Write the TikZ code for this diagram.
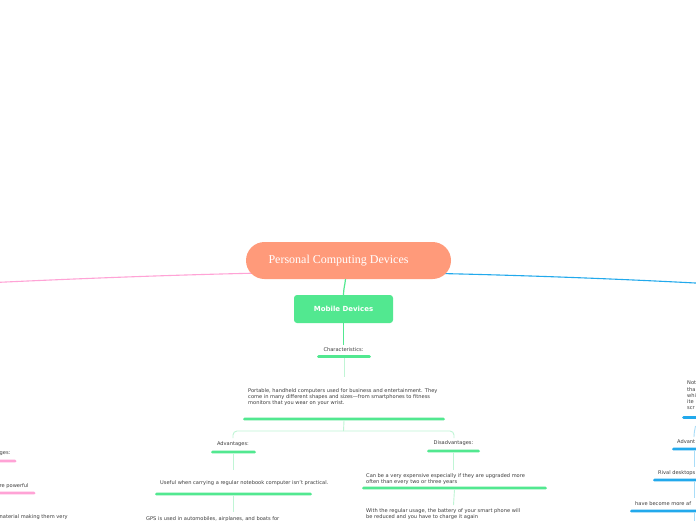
\documentclass[tikz,border=0pt]{standalone}
\usepackage{fontspec}
\setmainfont{DejaVu Sans}
\newfontfamily\titlefont{Liberation Serif}
\definecolor{salmon}{HTML}{FF9A7A}
\definecolor{mgreen}{HTML}{52E890}
\definecolor{lgreen}{HTML}{C0F5D5}
\definecolor{mpink}{HTML}{FFA3D6}
\definecolor{mblue}{HTML}{22A9EC}
\definecolor{lblue}{HTML}{A9DDF8}
\definecolor{txt}{HTML}{3C3C3C}
\tikzset{
  lbl/.style={font=\fontsize{5.1}{6.3}\selectfont, text=txt, inner sep=0pt, align=left},
  barnode/.style={fill=#1, draw=none, minimum height=2.6pt, inner sep=0pt, rounded corners=1.3pt},
  gconn/.style={draw=lgreen, line width=0.9pt},
  bconn/.style={draw=lblue, line width=0.9pt},
  topnode/.style={fill=salmon, draw=none, minimum width=205pt, minimum height=37pt, rounded corners=18.5pt, inner sep=0pt},
  titletext/.style={font=\titlefont\fontsize{12}{14}\selectfont, text=white, inner sep=0pt},
  mobnode/.style={fill=mgreen, draw=none, minimum width=99pt, minimum height=28pt, rounded corners=3pt, inner sep=0pt, text=white, font=\bfseries\fontsize{7}{8}\selectfont},
}
\begin{document}
\begin{tikzpicture}[x=1pt,y=-1pt]
\useasboundingbox (0,0) rectangle (696,520);
\clip (0,0) rectangle (696,520);
\fill[white] (0,0) rectangle (696,520);

% main branch lines
\coordinate (pinkstart) at (262,273);
\coordinate (pinkend) at (-5,282.5);
\coordinate (bluestart) at (440,273.5);
\coordinate (blueend) at (701,283.3);
\draw[mpink, line width=1.1pt] (pinkstart) .. controls (170,275) and (80,278.5) .. (pinkend);
\draw[mblue, line width=1.1pt] (bluestart) .. controls (530,275.5) and (620,279) .. (blueend);

% central topic
\node[topnode] (center) at (348.5,260.5) {};
\node[titletext] (titlelbl) at (338.5,261) {Personal Computing Devices};

% mobile devices
\node[mobnode] (mobile) at (343.5,309) {Mobile Devices};
\coordinate (c1) at (345.5,279);
\draw[mgreen, line width=1.2pt] (c1) to[out=-95,in=90] (mobile.north);

\node[lbl] (charlbl) at (343.5,349.5) {Characteristics:};
\node[barnode=mgreen, minimum width=54pt] (charbar) at (344,356.5) {};
\coordinate (mobend) at (343.5,345);
\draw[mgreen, line width=1.2pt] (mobile.south) -- (mobend);

\node[lbl, anchor=north west] (para) at (248,388.3) {Portable, handheld computers used for business and entertainment. They\\come in many different shapes and sizes\textemdash from smartphones to fitness\\monitors that you wear on your wrist.};
\coordinate (paratop) at (344,377);
\draw[gconn] (charbar.south) -- (paratop);
\node[barnode=mgreen, minimum width=202pt] (parabar) at (344,419) {};

% bracket to advantages / disadvantages
\coordinate (brk) at (343.5,431);
\coordinate (advtop) at (233,438);
\coordinate (distop) at (454,438);
\draw[gconn] (parabar.south) -- (brk);
\draw[gconn, rounded corners=4pt] (advtop) |- (brk) -| (distop);

\node[lbl] (advlbl) at (233,444.5) {Advantages:};
\node[barnode=mgreen, minimum width=45pt] (advbar) at (233.5,452) {};
\node[lbl] (dislbl) at (453.5,443.5) {Disadvantages:};
\node[barnode=mgreen, minimum width=53pt] (disbar) at (453.5,451) {};

\coordinate (a1) at (233.5,470);
\draw[gconn] (advbar.south) -- (a1);
\node[lbl, anchor=west] (useful) at (160,483) {Useful when carrying a regular notebook computer isn't practical.};
\node[barnode=mgreen, minimum width=157pt] (usefulbar) at (233.5,494) {};
\coordinate (a2) at (233.5,512);
\draw[gconn] (usefulbar.south) -- (a2);
\node[lbl, anchor=west] (gps) at (146,519) {GPS is used in automobiles, airplanes, and boats for};

\coordinate (d1) at (453.5,470);
\draw[gconn] (disbar.south) -- (d1);
\node[lbl, anchor=north west] (cost) at (366,473.3) {Can be a very expensive especially if they are upgraded more\\often than every two or three years};
\node[barnode=mgreen, minimum width=185pt] (costbar) at (454.5,488) {};
\coordinate (d2) at (453.5,505);
\draw[gconn] (costbar.south) -- (d2);
\node[lbl, anchor=north west] (battery) at (366,508.3) {With the regular usage, the battery of your smart phone will\\be reduced and you have to charge it again};

% left (pink) branch fragments
\node[lbl, anchor=west] (lg1) at (-0.5,454) {ges:};
\node[barnode=mpink, minimum width=24pt] (lbar1) at (4.5,461) {};
\node[lbl, anchor=west] (lg2) at (-0.5,486) {re powerful};
\node[barnode=mpink, minimum width=43pt] (lbar2) at (14,493) {};
\node[lbl, anchor=west] (lg3) at (-0.5,517.5) {naterial making them very};

% right (blue) branch fragments
\node[lbl, anchor=north west] (rt1) at (687,380.8) {Not\\tha\\whi\\ite\\scr};
\node[barnode=mblue, minimum width=20pt] (rbar1) at (692,417.5) {};
\coordinate (rc1) at (695.5,426);
\coordinate (rc2) at (694,437);
\draw[bconn] (rc1) to[out=-100,in=90] (rc2);
\node[lbl, anchor=west] (rt2) at (677,442) {Advant};
\node[barnode=mblue, minimum width=30pt] (rbar2) at (687,449) {};
\coordinate (rc3) at (694,467);
\draw[bconn] (rbar2.south -| rc3) -- (rc3);
\node[lbl, anchor=west] (rt3) at (658,473) {Rival desktops i};
\node[barnode=mblue, minimum width=50pt] (rbar3) at (678,480) {};
\coordinate (rc4) at (694,498);
\draw[bconn] (rbar3.south -| rc4) -- (rc4);
\node[lbl, anchor=west] (rt4) at (635,504) {have become more af};
\node[barnode=mblue, minimum width=72pt] (rbar4) at (666,511) {};
\coordinate (rc5) at (694,525);
\draw[bconn] (rbar4.south -| rc5) -- (rc5);
\end{tikzpicture}
\end{document}
